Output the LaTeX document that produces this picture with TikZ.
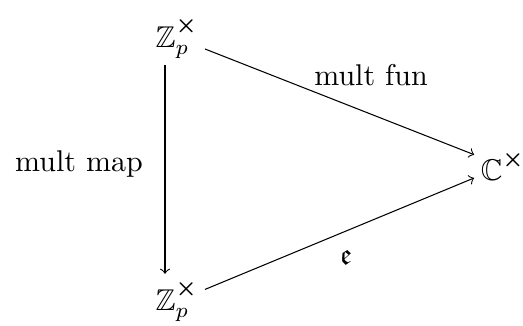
\documentclass[tikz,border=0pt]{standalone}
\usepackage{amssymb,amsmath}
\newcommand{\crs}{\raisebox{1.5pt}{$\scriptstyle\boldsymbol{\times}$}}
\begin{document}
\begin{tikzpicture}[x=0.3333pt,y=-0.3333pt,
  obj/.style={inner sep=2pt},
  lbl/.style={inner sep=0pt},
  arr/.style={->,line width=0.35pt}]
\useasboundingbox (0,0) rectangle (523,325);
\node[obj] (zt) at (177,38) {$\mathbb{Z}_p^{\crs}$};
\node[obj] (zb) at (177,301) {$\mathbb{Z}_p^{\crs}$};
\node[obj] (c) at (503,166) {$\mathbb{C}^{\crs}$};
\draw[arr] ([xshift=-4pt]zt.south) -- ([xshift=-4pt]zb.north);
\draw[arr] (zt) -- (c);
\draw[arr] (zb) -- (c);
\node[lbl] (l1) at (371,75) {mult fun};
\node[lbl] (l2) at (79,164) {mult map};
\node[lbl] (l3) at (346,257) {$\mathfrak{e}$};
\end{tikzpicture}
\end{document}
